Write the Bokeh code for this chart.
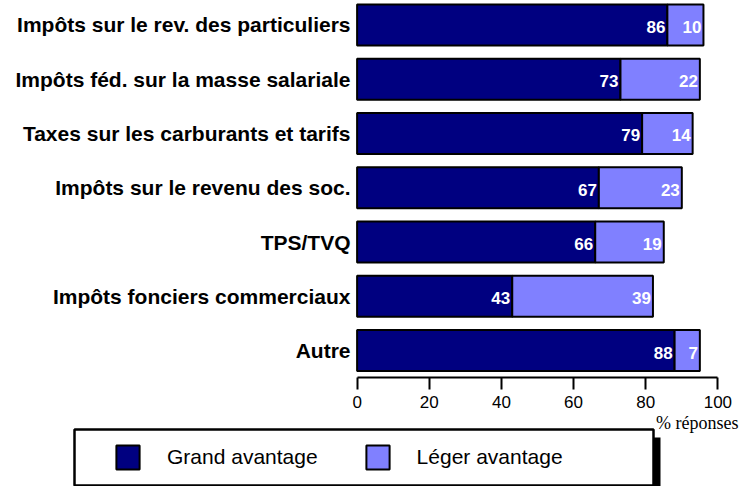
from bokeh.plotting import figure
from bokeh.layouts import column
from bokeh.models import (ColumnDataSource, Range1d, FixedTicker, Legend, LegendItem,
                          BoxAnnotation, Label)
from bokeh.core.properties import value
from bokeh.embed import file_html
from bokeh.resources import INLINE

# ---- data ----
categories = [
    "Impôts sur le rev. des particuliers",
    "Impôts féd. sur la masse salariale",
    "Taxes sur les carburants et tarifs",
    "Impôts sur le revenu des soc.",
    "TPS/TVQ",
    "Impôts fonciers commerciaux",
    "Autre",
]
grand_avantage = [86, 73, 79, 67, 66, 43, 88]
leger_avantage = [10, 22, 14, 23, 19, 39, 7]
x_ticks = [0, 20, 40, 60, 80, 100]
series_names = ["Grand avantage", "Léger avantage"]
axis_title = "% réponses"

NAVY = "#000080"
LIGHT = "#8080FF"
FONT = "Liberation Sans"

n = len(categories)
ys = [n - 1 - i for i in range(n)]
ends = [g + l for g, l in zip(grand_avantage, leger_avantage)]
src = ColumnDataSource(dict(
    y=ys, g=grand_avantage, l=leger_avantage, e=ends,
    gt=[str(v) for v in grand_avantage], lt=[str(v) for v in leger_avantage],
))

W = 751
HA, HB = 413, 73

# ---------------- main chart ----------------
p = figure(width=W, height=HA, output_backend="svg", toolbar_location=None,
           x_range=Range1d(-1, 101), y_range=Range1d(-0.497, 6.451),
           min_border_left=353, min_border_right=30, min_border_top=0,
           min_border_bottom=HA - 377)
p.frame_align = False
p.outline_line_color = None
p.xgrid.visible = False
p.ygrid.visible = False

BAR_H = 0.755
bar_kw = dict(y="y", height=BAR_H, source=src, line_color="black", line_width=2)
r1 = p.hbar(left=0, right="g", fill_color=NAVY, **bar_kw)
r2 = p.hbar(left="g", right="e", fill_color=LIGHT, **bar_kw)

txt_kw = dict(text_align="right", text_baseline="middle", x_offset=-2, y_offset=2,
              text_color="white", text_font=value(FONT), text_font_style="bold",
              text_font_size="17px")
p.text(x="g", y="y", text="gt", source=src, **txt_kw)
p.text(x="e", y="y", text="lt", source=src, **txt_kw)

xa = p.xaxis[0]
xa.ticker = FixedTicker(ticks=x_ticks)
xa.bounds = (0, 100)
xa.axis_line_width = 2
xa.axis_line_color = "black"
xa.major_tick_line_width = 2
xa.major_tick_line_color = "black"
xa.major_tick_out = 12
xa.major_tick_in = 0
xa.minor_tick_line_color = None
xa.major_label_text_font = FONT
xa.major_label_text_font_size = "17px"
xa.major_label_text_color = "black"
xa.major_label_standoff = 6

ya = p.yaxis[0]
ya.ticker = FixedTicker(ticks=ys)
ya.major_label_overrides = {y: c for y, c in zip(ys, categories)}
ya.axis_line_color = None
ya.major_tick_line_color = None
ya.minor_tick_line_color = None
ya.major_tick_out = 0
ya.major_tick_in = 0
ya.major_label_standoff = 3
ya.major_label_text_font = FONT
ya.major_label_text_font_style = "bold"
ya.major_label_text_font_size = "21px"
ya.major_label_text_color = "black"

# ---------------- legend strip ----------------
q = figure(width=W, height=HB, output_backend="svg", toolbar_location=None,
           x_range=Range1d(0, W), y_range=Range1d(0, HB),
           x_axis_location=None, y_axis_location=None,
           min_border_left=0, min_border_right=0, min_border_top=0, min_border_bottom=0)
q.frame_align = False
q.outline_line_color = None
q.xgrid.visible = False
q.ygrid.visible = False

# swatch renderers (hidden) carrying the series styles for the legend
l1 = q.hbar(left=0, right="g", fill_color=NAVY, visible=False, **bar_kw)
l2 = q.hbar(left="g", right="e", fill_color=LIGHT, visible=False, **bar_kw)

q.add_layout(Label(x=738, y=64, text=axis_title, text_align="right",
                   text_baseline="middle", text_font="Liberation Serif",
                   text_font_size="18px", text_color="black"))

shadow = BoxAnnotation(left=80, right=660, top=49, bottom=-10,
                       fill_color="black", fill_alpha=1, line_color=None)
box = BoxAnnotation(left=74, right=653, top=57, bottom=1,
                    fill_color="white", fill_alpha=1, line_color="black",
                    line_width=2.5, line_alpha=1)
q.add_layout(shadow)
q.add_layout(box)

legend = Legend(items=[LegendItem(label=series_names[0], renderers=[l1]),
                       LegendItem(label=series_names[1], renderers=[l2])],
                location=(113, 14), orientation="horizontal", padding=0, margin=0,
                spacing=45, label_standoff=25, glyph_width=29, glyph_height=30,
                label_height=30, label_text_font=FONT, label_text_font_size="21px",
                label_text_color="black", border_line_alpha=0,
                background_fill_alpha=0, click_policy="none")
q.add_layout(legend)

layout = column(p, q, spacing=0)
open("out.html", "w").write(file_html(layout, INLINE))
